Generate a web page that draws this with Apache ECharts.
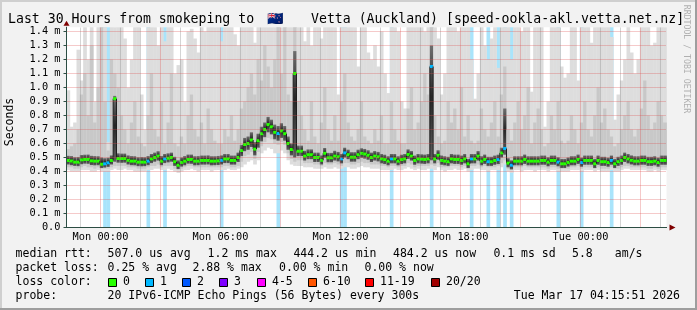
<!DOCTYPE html>
<html><head><meta charset="utf-8">
<script src="https://cdn.jsdelivr.net/npm/echarts@6/dist/echarts.min.js"></script>
<style>html,body{margin:0;padding:0;background:#f2f2f2}#c{width:697px;height:310px}</style>
</head><body><div id="c"></div>
<script>
// ---------------- data (hours relative to Mon 00:00, values in ms) ----------------
const startHour = -1.7;
const endHour = 28.3;
const stepHours = 1 / 6;   // 10-minute steps

const median = [
 0.479,0.475,0.467,0.467,0.483,0.486,0.486,0.476,0.474,0.474,
 0.452,0.455,0.462,0.479,0.920,0.493,0.493,0.493,0.480,0.474,
 0.474,0.467,0.467,0.467,0.474,0.490,0.500,0.510,0.474,0.490,
 0.495,0.500,0.470,0.445,0.465,0.474,0.486,0.486,0.474,0.474,
 0.479,0.479,0.479,0.474,0.474,0.476,0.480,0.490,0.490,0.479,
 0.479,0.500,0.550,0.593,0.600,0.625,0.560,0.620,0.670,0.700,
 0.735,0.719,0.680,0.671,0.690,0.670,0.600,0.557,1.100,0.545,
 0.545,0.510,0.520,0.520,0.500,0.500,0.480,0.530,0.498,0.498,
 0.510,0.505,0.490,0.533,0.520,0.502,0.502,0.520,0.530,0.525,
 0.516,0.500,0.510,0.505,0.490,0.485,0.474,0.490,0.490,0.474,
 0.485,0.490,0.521,0.510,0.479,0.490,0.488,0.486,0.490,1.150,
 0.490,0.516,0.479,0.474,0.470,0.490,0.486,0.486,0.479,0.490,
 0.455,0.490,0.490,0.510,0.474,0.486,0.470,0.470,0.479,0.485,
 0.533,0.564,0.460,0.445,0.474,0.474,0.474,0.486,0.474,0.474,
 0.474,0.474,0.479,0.479,0.467,0.479,0.479,0.467,0.455,0.455,
 0.465,0.474,0.474,0.486,0.464,0.479,0.479,0.479,0.455,0.479,
 0.470,0.470,0.464,0.479,0.455,0.470,0.479,0.500,0.490,0.480,
 0.474,0.474,0.479,0.479,0.470,0.470,0.474,0.464,0.479,0.479
];
// fastest ping of each step
const pingMin = [
 0.41,0.40,0.40,0.40,0.41,0.41,0.41,0.40,0.40,0.41,
 0.40,0.40,0.40,0.41,0.42,0.41,0.41,0.42,0.41,0.41,
 0.40,0.40,0.40,0.40,0.41,0.41,0.42,0.42,0.41,0.41,
 0.42,0.41,0.40,0.39,0.40,0.41,0.41,0.42,0.41,0.40,
 0.41,0.41,0.41,0.40,0.41,0.41,0.41,0.41,0.42,0.41,
 0.41,0.42,0.43,0.45,0.47,0.48,0.45,0.48,0.53,0.55,
 0.57,0.56,0.53,0.53,0.55,0.53,0.48,0.45,0.44,0.44,
 0.44,0.43,0.43,0.43,0.42,0.42,0.42,0.43,0.42,0.42,
 0.43,0.42,0.42,0.43,0.43,0.42,0.42,0.43,0.44,0.43,
 0.43,0.42,0.42,0.42,0.41,0.41,0.41,0.41,0.42,0.41,
 0.41,0.42,0.43,0.42,0.41,0.42,0.41,0.41,0.42,0.42,
 0.41,0.43,0.41,0.40,0.41,0.41,0.42,0.41,0.41,0.42,
 0.40,0.41,0.42,0.42,0.41,0.41,0.40,0.41,0.41,0.41,
 0.43,0.45,0.40,0.39,0.41,0.41,0.40,0.41,0.41,0.41,
 0.40,0.41,0.41,0.41,0.40,0.41,0.41,0.40,0.40,0.40,
 0.40,0.41,0.41,0.41,0.40,0.41,0.41,0.41,0.40,0.41,
 0.40,0.40,0.40,0.41,0.40,0.40,0.41,0.42,0.42,0.41,
 0.41,0.41,0.41,0.41,0.40,0.40,0.41,0.40,0.41,0.41
];
// lower edge of the medium smoke band
const pingLow = [
 0.43,0.43,0.42,0.42,0.43,0.44,0.43,0.43,0.42,0.43,
 0.42,0.42,0.42,0.43,0.44,0.44,0.44,0.44,0.43,0.43,
 0.43,0.42,0.42,0.42,0.43,0.44,0.44,0.45,0.43,0.44,
 0.44,0.44,0.42,0.41,0.42,0.43,0.44,0.44,0.43,0.43,
 0.43,0.43,0.43,0.43,0.43,0.43,0.43,0.44,0.44,0.43,
 0.43,0.44,0.47,0.51,0.52,0.54,0.49,0.54,0.58,0.61,
 0.64,0.63,0.60,0.59,0.61,0.59,0.53,0.49,0.47,0.48,
 0.48,0.46,0.46,0.46,0.45,0.45,0.44,0.46,0.45,0.45,
 0.46,0.45,0.44,0.46,0.46,0.45,0.45,0.46,0.47,0.46,
 0.46,0.45,0.45,0.45,0.44,0.44,0.43,0.44,0.44,0.43,
 0.44,0.44,0.46,0.45,0.43,0.44,0.44,0.44,0.44,0.45,
 0.44,0.46,0.43,0.43,0.43,0.44,0.44,0.44,0.43,0.44,
 0.42,0.44,0.44,0.45,0.43,0.44,0.43,0.43,0.43,0.44,
 0.46,0.48,0.42,0.41,0.43,0.43,0.43,0.44,0.43,0.43,
 0.43,0.43,0.43,0.43,0.42,0.43,0.43,0.42,0.42,0.42,
 0.42,0.43,0.43,0.44,0.42,0.43,0.43,0.43,0.42,0.43,
 0.42,0.42,0.42,0.43,0.42,0.42,0.43,0.44,0.44,0.43,
 0.43,0.43,0.43,0.43,0.42,0.42,0.43,0.42,0.43,0.43
];
// core (dense) part of the ping distribution
const coreLow = [
 0.450,0.445,0.440,0.438,0.452,0.456,0.455,0.446,0.444,0.445,
 0.425,0.428,0.433,0.450,0.470,0.463,0.462,0.463,0.450,0.445,
 0.444,0.438,0.437,0.438,0.445,0.460,0.470,0.478,0.445,0.460,
 0.465,0.470,0.440,0.418,0.435,0.444,0.456,0.455,0.444,0.445,
 0.449,0.449,0.450,0.444,0.445,0.446,0.450,0.460,0.460,0.449,
 0.449,0.468,0.510,0.545,0.555,0.575,0.515,0.570,0.615,0.645,
 0.680,0.665,0.630,0.620,0.640,0.620,0.555,0.515,0.500,0.510,
 0.510,0.478,0.488,0.488,0.468,0.468,0.450,0.498,0.466,0.466,
 0.478,0.472,0.458,0.500,0.488,0.470,0.470,0.488,0.498,0.492,
 0.484,0.468,0.478,0.472,0.458,0.453,0.444,0.458,0.458,0.444,
 0.453,0.458,0.490,0.478,0.448,0.458,0.456,0.454,0.458,0.480,
 0.458,0.484,0.448,0.444,0.440,0.458,0.454,0.454,0.448,0.458,
 0.425,0.458,0.458,0.478,0.444,0.454,0.440,0.440,0.448,0.453,
 0.500,0.520,0.430,0.415,0.444,0.444,0.444,0.454,0.444,0.444,
 0.444,0.444,0.448,0.448,0.437,0.448,0.448,0.437,0.425,0.425,
 0.435,0.444,0.444,0.454,0.434,0.448,0.448,0.448,0.425,0.448,
 0.440,0.440,0.434,0.448,0.425,0.440,0.448,0.468,0.458,0.450,
 0.444,0.444,0.448,0.448,0.440,0.440,0.444,0.434,0.448,0.448
];
const coreHigh = [
 0.512,0.510,0.502,0.503,0.518,0.520,0.521,0.512,0.510,0.509,
 0.500,0.495,0.498,0.515,0.940,0.530,0.528,0.528,0.515,0.510,
 0.509,0.502,0.503,0.502,0.510,0.525,0.535,0.545,0.510,0.525,
 0.530,0.535,0.505,0.480,0.500,0.510,0.521,0.521,0.509,0.510,
 0.514,0.514,0.515,0.509,0.509,0.511,0.515,0.525,0.525,0.514,
 0.514,0.535,0.590,0.640,0.650,0.680,0.610,0.670,0.720,0.750,
 0.790,0.770,0.735,0.725,0.745,0.725,0.650,0.600,1.260,0.585,
 0.585,0.548,0.558,0.558,0.535,0.535,0.515,0.568,0.533,0.533,
 0.548,0.540,0.525,0.570,0.556,0.538,0.538,0.556,0.566,0.561,
 0.552,0.535,0.546,0.540,0.525,0.520,0.509,0.525,0.525,0.509,
 0.520,0.525,0.558,0.546,0.514,0.525,0.523,0.521,0.525,1.300,
 0.525,0.552,0.514,0.509,0.505,0.525,0.521,0.521,0.514,0.525,
 0.490,0.525,0.525,0.546,0.509,0.521,0.505,0.505,0.514,0.520,
 0.570,0.850,0.495,0.480,0.509,0.509,0.509,0.521,0.509,0.509,
 0.509,0.509,0.514,0.514,0.502,0.514,0.514,0.502,0.490,0.490,
 0.500,0.509,0.509,0.521,0.499,0.514,0.514,0.514,0.490,0.514,
 0.505,0.505,0.499,0.514,0.490,0.505,0.514,0.535,0.525,0.515,
 0.509,0.509,0.514,0.514,0.505,0.505,0.509,0.499,0.514,0.514
];
// upper edge of the medium smoke band
const pingHigh = [
 0.56,0.58,0.60,0.70,0.95,1.10,0.80,1.30,0.75,1.00,
 1.45,0.90,0.55,1.20,1.10,1.00,0.80,0.70,0.60,0.75,
 0.90,0.65,0.60,0.58,0.80,1.10,0.70,0.65,0.90,0.60,
 0.75,1.10,0.60,0.58,0.65,0.60,0.80,0.95,0.70,0.65,
 0.75,0.60,0.85,0.70,0.62,0.60,0.60,0.70,0.65,0.80,
 0.62,0.70,0.85,0.90,1.00,1.10,0.95,1.20,1.05,1.30,
 1.15,1.00,1.20,1.45,1.10,1.45,0.95,0.90,1.45,0.90,
 0.80,0.70,0.62,0.90,0.65,0.60,0.75,1.00,0.70,0.62,
 0.80,0.62,0.90,1.10,0.75,0.65,0.62,0.70,0.90,0.65,
 0.62,0.60,0.70,0.62,0.80,0.60,0.60,0.90,0.70,0.62,
 0.60,0.60,0.85,1.00,0.70,0.75,0.90,1.10,0.95,1.45,
 0.80,0.65,0.60,0.62,0.90,0.75,0.85,0.70,1.00,0.65,
 0.80,0.62,0.60,0.62,0.85,0.70,0.65,0.75,0.90,0.65,
 0.95,1.15,0.70,0.62,0.75,0.90,0.70,0.80,1.00,0.60,
 0.75,0.85,0.70,0.58,0.60,0.80,0.70,0.90,0.62,0.60,
 0.62,0.80,0.70,0.60,0.75,0.90,0.70,0.65,0.80,1.00,
 0.75,0.85,0.70,0.65,0.58,0.60,0.70,0.80,0.90,0.70,
 0.65,0.70,0.85,1.05,0.80,0.70,0.75,0.90,0.80,0.75
];
// slowest ping of each step
const pingMax = [
 0.98,0.72,0.75,1.27,1.05,1.45,1.20,1.45,0.90,1.45,
 1.45,1.45,0.61,1.45,1.45,1.45,1.45,1.35,1.00,1.20,
 1.45,1.45,0.95,0.70,1.45,1.45,1.45,1.30,1.45,1.33,
 1.45,1.45,1.10,1.16,1.20,0.90,1.40,1.42,1.35,1.25,
 1.45,1.40,1.45,1.45,1.45,1.45,1.33,1.45,1.45,1.45,
 1.38,1.30,1.45,1.45,1.45,1.45,1.32,1.45,1.45,1.45,
 1.45,1.45,1.45,1.45,1.45,1.45,1.45,1.45,1.45,1.45,
 1.45,1.33,1.45,1.30,1.45,1.45,1.35,1.45,1.45,1.45,
 1.45,0.95,1.45,1.45,1.45,1.45,1.45,1.15,1.45,1.45,
 1.25,1.20,1.30,1.15,1.40,1.10,0.96,1.45,1.45,1.40,
 0.90,0.85,1.45,1.45,1.45,1.45,1.45,1.40,1.45,1.45,
 1.45,1.35,0.95,1.10,1.45,1.45,1.45,1.40,1.45,1.45,
 1.45,1.20,0.92,1.10,1.45,1.30,1.20,1.35,1.45,1.14,
 1.45,1.45,1.45,1.20,1.45,1.45,1.40,1.45,1.45,0.97,
 1.45,1.45,1.45,0.72,0.90,1.45,1.45,1.45,1.15,1.07,
 1.10,1.45,1.45,1.05,1.45,1.45,1.45,1.32,1.45,1.45,
 1.45,1.45,1.45,1.36,0.77,0.95,1.05,1.20,1.45,1.25,
 1.10,1.20,1.45,1.45,1.45,1.30,1.32,1.45,1.45,1.45
];
// [step index, lost pings out of 20]
const lossEvents = [[11,1],[12,1],[24,1],[29,1],[46,1],[63,1],[82,1],[83,1],[97,1],[109,1],
  [121,1],[126,1],[129,1],[131,1],[133,1],[147,1],[154,1],[163,1]];

const lossLabels = ['0','1','2','3','4-5','6-10','11-19','20/20'];
const lossColors = ['#26ff00','#00b8ff','#0059ff','#7e00ff','#ff00ff','#ff5500','#ff0000','#a10000'];
const lossUpper  = [0,1,2,3,5,10,19,20];

const xTickHours  = [0, 6, 12, 18, 24];
const xTickLabels = ['Mon 00:00','Mon 06:00','Mon 12:00','Mon 18:00','Tue 00:00'];
const yTicks      = [0,0.1,0.2,0.3,0.4,0.5,0.6,0.7,0.8,0.9,1.0,1.1,1.2,1.3,1.4];
const yTickLabels = ['0.0','0.1 m','0.2 m','0.3 m','0.4 m','0.5 m','0.6 m','0.7 m','0.8 m','0.9 m','1.0 m','1.1 m','1.2 m','1.3 m','1.4 m'];
const yTop = 1.43;

const titleParts = ['Last 30 Hours from smokeping to', '\u{1F1F3}\u{1F1FF}', 'Vetta (Auckland) [speed-ookla-akl.vetta.net.nz]'];
const rttLabel = 'median rtt:';
const rttStats = ['507.0 us avg','1.2 ms max','444.2 us min','484.2 us now','0.1 ms sd','5.8','am/s'];
const lossLabel = 'packet loss:';
const lossStats = ['0.25 % avg','2.88 % max','0.00 % min','0.00 % now'];
const probeText = '20 IPv6-ICMP Echo Pings (56 Bytes) every 300s';
const dateText = 'Tue Mar 17 04:15:51 2026';
const watermark = 'RRDTOOL / TOBI OETIKER';

// ---------------- build ----------------
const MONO = '"DejaVu Sans Mono", "Liberation Mono", monospace';
const lossAt = new Array(median.length).fill(0);
lossEvents.forEach(([i, n]) => { lossAt[i] = n; });
function lossBucket(n) { for (let k = 0; k < lossUpper.length; k++) if (n <= lossUpper[k]) return k; return lossUpper.length - 1; }

const steps = median.map((m, i) => {
  const t0 = startHour + i * stepHours;
  return [t0, t0 + stepHours, pingMin[i], pingLow[i], coreLow[i], coreHigh[i], pingHigh[i], pingMax[i], m, lossAt[i]];
});
const lossData = steps.filter(s => s[9] > 0).map(s => [s[0], s[1], s[9]]);

const clampV = v => Math.max(0, Math.min(yTop, v));
function band(api, t0, t1, lo, hi, fill) {
  const a = api.coord([t0, clampV(hi)]);
  const b = api.coord([t1, clampV(lo)]);
  return { type: 'rect', shape: { x: a[0], y: a[1], width: b[0] - a[0] + 0.35, height: b[1] - a[1] }, style: { fill: fill } };
}
const coreFill = new echarts.graphic.LinearGradient(0, 0, 0, 1, [
  { offset: 0, color: '#6e6e6e' }, { offset: 0.45, color: '#262626' }, { offset: 1, color: '#5c5c5c' }]);

const gridHours = [];
for (let h = Math.ceil(startHour); h <= Math.floor(endHour); h++) gridHours.push(h);
const MGRID = 'rgba(222,79,79,0.6)';
const GRID = 'rgba(143,143,143,0.75)';
const markData = gridHours.map(h => ({ xAxis: h, lineStyle: { color: h % 3 === 0 ? MGRID : GRID, type: [1, 1], width: 1 } }))
  .concat(yTicks.slice(1).map(v => ({ yAxis: v, lineStyle: { color: MGRID, type: [1, 1], width: 1 } })));

function T(x, y, s, size, extra) {
  const el = { type: 'text', x: x, y: y, z: 100, silent: true,
    style: { text: s, font: size + 'px ' + MONO, fill: '#000', textVerticalAlign: 'middle', verticalAlign: 'middle', textAlign: 'left', align: 'left' } };
  if (extra) { Object.assign(el.style, extra.style || {}); if (extra.rotation !== undefined) el.rotation = extra.rotation; }
  return el;
}

const LF = 11.5;
const graphics = [
  { type: 'rect', shape: { x: 0, y: 0, width: 697, height: 2 }, style: { fill: '#cfcfcf' }, silent: true },
  { type: 'rect', shape: { x: 0, y: 0, width: 2, height: 310 }, style: { fill: '#cfcfcf' }, silent: true },
  { type: 'rect', shape: { x: 0, y: 308, width: 697, height: 2 }, style: { fill: '#9e9e9e' }, silent: true },
  { type: 'rect', shape: { x: 695, y: 0, width: 2, height: 310 }, style: { fill: '#9e9e9e' }, silent: true },
  T(8, 20, titleParts[0], 13.2),
  T(267, 20, titleParts[1], 13.2),
  T(311, 20, titleParts[2], 13.2),
  T(686, 59, watermark, 8.2, { rotation: -Math.PI / 2, style: { fill: '#b0b0b0', textAlign: 'center', align: 'center' } }),
  T(10, 122, 'Seconds', LF, { rotation: Math.PI / 2, style: { textAlign: 'center', align: 'center' } }),
  T(15.6, 254, rttLabel, LF),
  T(15.6, 268, lossLabel, LF),
  T(15.6, 282, 'loss color:', LF),
  T(15.6, 296, 'probe:', LF),
  T(107.6, 296, probeText, LF),
  T(680, 296, dateText, LF, { style: { textAlign: 'right', align: 'right' } })
];
[107.6, 207.6, 293.4, 393, 493.4, 572, 614.8].forEach((x, k) => graphics.push(T(x, 254, rttStats[k], LF)));
[107.6, 192.5, 279, 364.5].forEach((x, k) => graphics.push(T(x, 268, lossStats[k], LF)));
[108, 145.4, 182.3, 219, 256.5, 307.6, 365.4, 431].forEach((x, k) => {
  graphics.push({ type: 'rect', z: 100, silent: true, shape: { x: Math.round(x) + 0.5, y: 278.5, width: 8, height: 8 },
    style: { fill: lossColors[k], stroke: '#000', lineWidth: 1 } });
  graphics.push(T(Math.round(x) + 15, 282, lossLabels[k], LF));
});

const chart = echarts.init(document.getElementById('c'), null, { renderer: 'canvas' });
chart.setOption({
  animation: false,
  backgroundColor: '#f2f2f2',
  grid: { left: 66.5, right: 30.5, top: 27.3, bottom: 82.5, show: true, backgroundColor: '#ffffff', borderWidth: 0 },
  xAxis: [{
    type: 'value', min: startHour, max: endHour, z: 6,
    axisLine: { show: true, onZero: false, lineStyle: { color: '#2c4d43', width: 1 } },
    axisTick: { show: false },
    splitLine: { show: false },
    axisLabel: { customValues: xTickHours, margin: 5, color: '#000', fontFamily: MONO, fontSize: 10.3,
      formatter: v => { const k = xTickHours.indexOf(Math.round(v)); return k >= 0 ? xTickLabels[k] : ''; } }
  }, {
    type: 'value', min: startHour, max: endHour, position: 'bottom', z: 5,
    axisLine: { show: true, onZero: false, symbol: ['none', 'triangle'], symbolSize: [6, 6], symbolOffset: [0, 6], lineStyle: { color: '#7f0000', width: 1 } },
    axisTick: { show: false }, axisLabel: { show: false }, splitLine: { show: false }
  }],
  yAxis: [{
    type: 'value', min: 0, max: yTop, interval: 0.1, z: 6, position: 'left',
    axisLine: { show: true, onZero: false, lineStyle: { color: '#2c4d43', width: 1 } },
    axisTick: { show: true, length: 3, customValues: yTicks, lineStyle: { color: '#2c4d43' } },
    splitLine: { show: false },
    axisLabel: { customValues: yTicks, margin: 6, color: '#000', fontFamily: MONO, fontSize: 10.3,
      formatter: v => { const k = yTicks.findIndex(t => Math.abs(t - v) < 1e-6); return k >= 0 ? yTickLabels[k] : ''; } }
  }, {
    type: 'value', min: 0, max: yTop, position: 'left', z: 5,
    axisLine: { show: true, onZero: false, symbol: ['none', 'triangle'], symbolSize: [6, 5], symbolOffset: [0, 4], lineStyle: { color: '#7f0000', width: 1 } },
    axisTick: { show: false }, axisLabel: { show: false }, splitLine: { show: false }
  }],
  graphic: graphics,
  series: [
    { // loss background
      type: 'custom', z: 1, silent: true, data: lossData,
      renderItem: (params, api) => band(api, api.value(0), api.value(1), 0, yTop, '#a9e4fb')
    },
    { // smoke
      type: 'custom', z: 2, silent: true, data: steps,
      renderItem: (params, api) => {
        const t0 = api.value(0), t1 = api.value(1);
        return { type: 'group', children: [
          band(api, t0, t1, api.value(2), api.value(7), '#dddddd'),
          band(api, t0, t1, api.value(3), api.value(6), '#c8c8c8'),
          band(api, t0, t1, api.value(4), api.value(5), coreFill)
        ] };
      }
    },
    { // grid lines over the smoke
      type: 'line', z: 3, silent: true, data: [[startHour, 0]], showSymbol: false, lineStyle: { width: 0, opacity: 0 },
      markLine: { silent: true, animation: false, symbol: ['none', 'none'], label: { show: false }, emphasis: { disabled: true }, data: markData }
    },
    { // median
      type: 'custom', z: 4, silent: true, data: steps,
      renderItem: (params, api) => {
        const i = params.dataIndex;
        const t0 = api.value(0), t1 = api.value(1), m = api.value(8), n = api.value(9);
        const p0 = api.coord([t0, m]), p1 = api.coord([t1, m]);
        const kids = [];
        if (i > 0) {
          const pp = api.coord([t0, median[i - 1]]);
          kids.push({ type: 'line', shape: { x1: p0[0], y1: pp[1], x2: p0[0], y2: p0[1] }, style: { stroke: '#202020', lineWidth: 1 } });
        }
        kids.push({ type: 'rect', shape: { x: p0[0], y: p0[1] - 1.5, width: p1[0] - p0[0], height: 3 }, style: { fill: lossColors[lossBucket(n)] } });
        return { type: 'group', children: kids };
      }
    }
  ]
});
</script>
</body></html>
